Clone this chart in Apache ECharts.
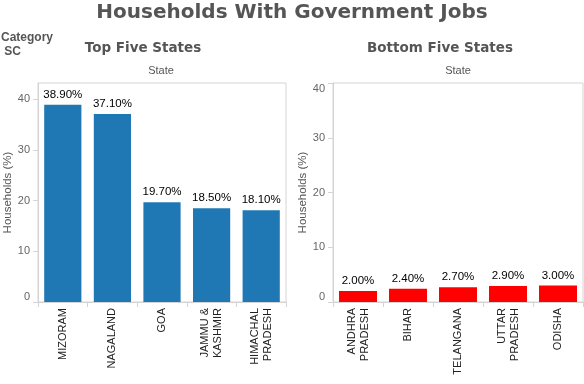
<!DOCTYPE html>
<html><head><meta charset="utf-8">
<script src="https://cdn.jsdelivr.net/npm/echarts@6/dist/echarts.min.js"></script>
<style>html,body{margin:0;padding:0;background:#fff}#c{width:584px;height:384px}</style>
</head><body><div id="c"></div>
<script>
const topStates = ['MIZORAM', 'NAGALAND', 'GOA', 'JAMMU &\nKASHMIR', 'HIMACHAL\nPRADESH'];
const topValues = [38.9, 37.1, 19.7, 18.5, 18.1];
const bottomStates = ['ANDHRA\nPRADESH', 'BIHAR', 'TELANGANA', 'UTTAR\nPRADESH', 'ODISHA'];
const bottomValues = [2.0, 2.4, 2.7, 2.9, 3.0];
const yTicks = [0, 10, 20, 30, 40];

const chart = echarts.init(document.getElementById('c'), null, {renderer: 'canvas'});
const font = '"Liberation Sans", Arial, sans-serif';
const border = '#d4d4d4';

function xAxis(idx, cats) {
  return {
    type: 'category', gridIndex: idx, data: cats,
    axisLine: {show: true, lineStyle: {color: border}},
    axisTick: {show: true, length: 5, lineStyle: {color: border}},
    axisLabel: {rotate: 90, margin: 6, fontFamily: font, fontSize: 11, color: '#222', lineHeight: 13, interval: 0}
  };
}
function yAxis(idx, max, alignTop) {
  return {
    type: 'value', gridIndex: idx, min: 0, max: max, interval: 10,
    name: 'Households (%)', nameLocation: 'middle', nameGap: 24, nameRotate: 90,
    nameTextStyle: {fontFamily: font, fontSize: 11.5, color: '#555'},
    axisLine: {show: true, lineStyle: {color: border}},
    axisTick: {show: true, length: 5, lineStyle: {color: border}, customValues: yTicks},
    axisLabel: {fontFamily: font, fontSize: 11, color: '#666', margin: 8, customValues: yTicks,
      verticalAlignMinLabel: 'bottom', verticalAlignMaxLabel: alignTop ? 'top' : 'middle'},
    splitLine: {show: false}
  };
}
const labelStyle = {show: true, position: 'top', distance: 4, fontFamily: font, fontSize: 11.5, color: '#000',
  formatter: p => p.value.toFixed(2) + '%'};

chart.setOption({
  animation: false,
  title: [
    {text: 'Households With Government Jobs', left: 'center', top: 3, padding: 0,
      textStyle: {fontFamily: '"DejaVu Sans", sans-serif', fontWeight: 'bold', fontSize: 20, color: '#555'}},
    {text: 'Category\n SC', left: 1, top: 31, padding: 0,
      textStyle: {fontFamily: font, fontWeight: 'bold', fontSize: 12, color: '#555', lineHeight: 14}},
    {text: 'Top Five States', left: 143, top: 41, textAlign: 'center', padding: 0,
      textStyle: {fontFamily: '"DejaVu Sans", sans-serif', fontWeight: 'bold', fontSize: 13.5, color: '#555'}},
    {text: 'Bottom Five States', left: 440, top: 41, textAlign: 'center', padding: 0,
      textStyle: {fontFamily: '"DejaVu Sans", sans-serif', fontWeight: 'bold', fontSize: 13.5, color: '#555'}},
    {text: 'State', left: 161, top: 65, textAlign: 'center', padding: 0,
      textStyle: {fontFamily: font, fontWeight: 'normal', fontSize: 11, color: '#555'}},
    {text: 'State', left: 458, top: 65, textAlign: 'center', padding: 0,
      textStyle: {fontFamily: font, fontWeight: 'normal', fontSize: 11, color: '#555'}}
  ],
  grid: [
    {left: 38, top: 83, right: 298, bottom: 82, show: true, borderColor: border, borderWidth: 1},
    {left: 333, top: 83, right: 1, bottom: 82, show: true, borderColor: border, borderWidth: 1}
  ],
  xAxis: [xAxis(0, topStates), xAxis(1, bottomStates)],
  yAxis: [yAxis(0, 43.2, false), yAxis(1, 40, true)],
  series: [
    {type: 'bar', xAxisIndex: 0, yAxisIndex: 0, data: topValues, barWidth: '75%',
      itemStyle: {color: '#1f77b4'}, label: labelStyle},
    {type: 'bar', xAxisIndex: 1, yAxisIndex: 1, data: bottomValues, barWidth: '76%',
      itemStyle: {color: '#ff0000'}, label: labelStyle}
  ]
});
</script></body></html>
